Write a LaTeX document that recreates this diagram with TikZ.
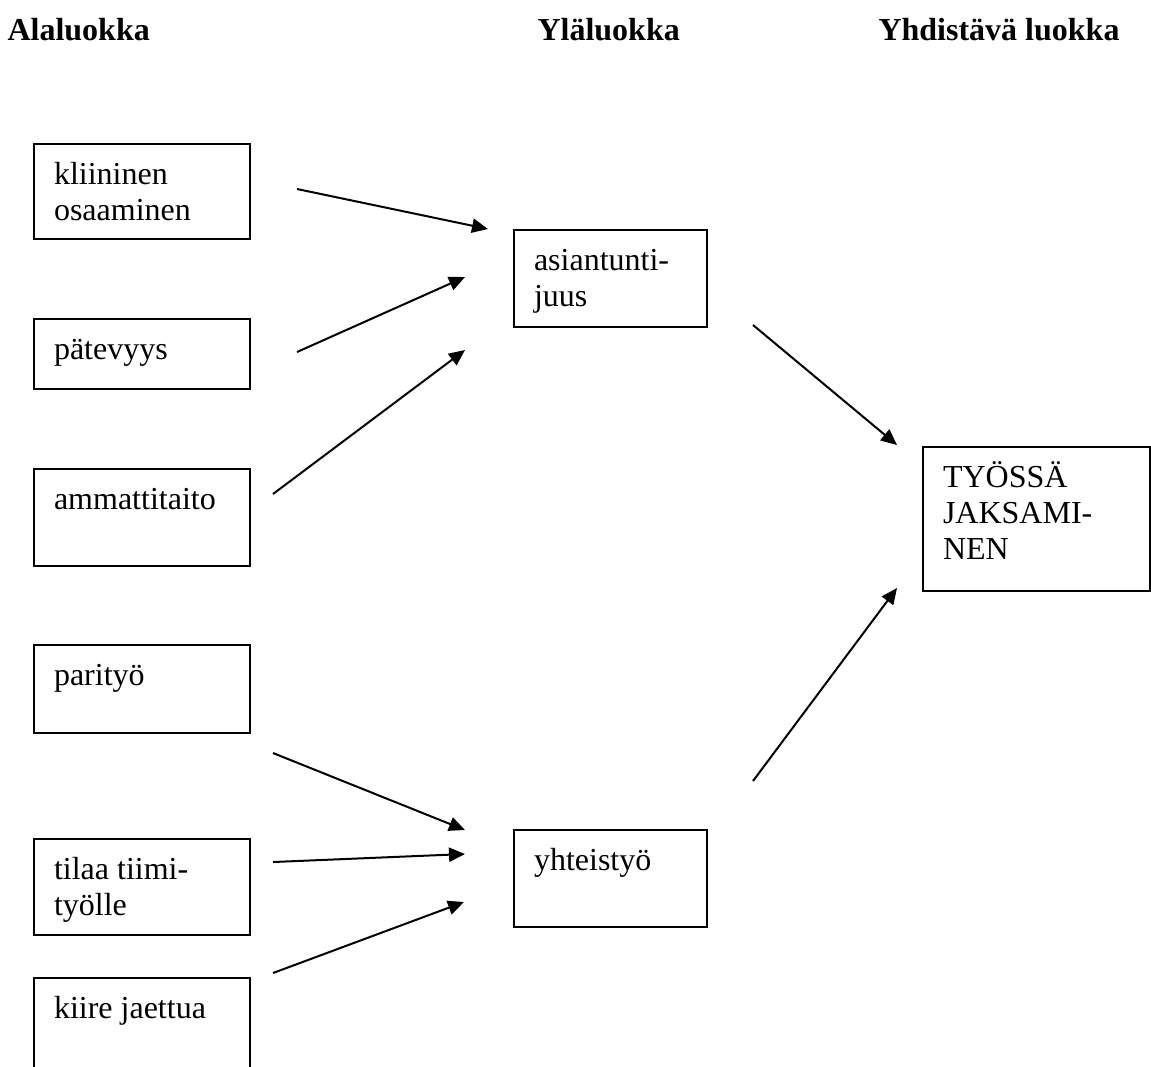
\documentclass[tikz,border=0pt]{standalone}
\usepackage{fontspec}
\setmainfont{Liberation Serif}
\usetikzlibrary{arrows.meta}

\newcommand{\laatikko}[3]{\parbox[t][#2][t]{#1}{\rule{0pt}{15pt}#3}}

\begin{document}
\begin{tikzpicture}[x=0.375pt, y=-0.375pt]
        \tikzset{luokka/.style={draw, line width=0.75pt, anchor=north west,
                inner xsep=7.5pt, inner ysep=0pt, align=left,
                font=\fontsize{12pt}{13.5pt}\selectfont}}
        \tikzset{otsikko/.style={anchor=base west, inner sep=0pt,
                font=\fontsize{12pt}{13.5pt}\selectfont\bfseries}}
        \tikzset{nuoli/.style={line width=0.75pt, -{Triangle[length=6pt, width=5.3pt]}}}
        \clip (0,0) rectangle (1151,1066);
        \node[otsikko] (ala) at (7,40) {Alaluokka};
        \node[otsikko] (yla) at (537,40) {Yläluokka};
        \node[otsikko] (yhd) at (878,40) {Yhdistävä luokka};
        \node[luokka] (klin) at (33,143) {\laatikko{66pt}{35.6pt}{kliininen\\osaaminen}};
        \node[luokka] (pate) at (33,318) {\laatikko{66pt}{26.25pt}{pätevyys}};
        \node[luokka] (amma) at (33,468) {\laatikko{66pt}{36.4pt}{ammattitaito}};
        \node[luokka] (pari) at (33,644) {\laatikko{66pt}{33pt}{parityö}};
        \node[luokka] (tiimi) at (33,838) {\laatikko{66pt}{36pt}{tilaa tiimi-\\työlle}};
        \node[luokka] (kiire) at (33,977) {\laatikko{66pt}{45pt}{kiire jaettua}};
        \node[luokka] (asia) at (513,229) {\laatikko{57.4pt}{36.4pt}{asiantunti-\\juus}};
        \node[luokka] (yhte) at (513,829) {\laatikko{57.4pt}{36.4pt}{yhteistyö}};
        \node[luokka] (tyo) at (922,446) {\laatikko{70.1pt}{54pt}{TYÖSSÄ\\JAKSAMI-\\NEN}};
        % vapaat nuolten päät
        \coordinate (klin-o) at (297,189);
        \coordinate (pate-o) at (297,352);
        \coordinate (amma-o) at (273,494);
        \coordinate (pari-o) at (273,753);
        \coordinate (tiimi-o) at (273,862);
        \coordinate (kiire-o) at (273,973);
        \coordinate (asia-i1) at (488,229);
        \coordinate (asia-i2) at (465,277);
        \coordinate (asia-i3) at (465,350);
        \coordinate (yhte-i1) at (465,830);
        \coordinate (yhte-i2) at (465,854);
        \coordinate (yhte-i3) at (464,902);
        \coordinate (asia-o) at (753,325);
        \coordinate (yhte-o) at (753,781);
        \coordinate (tyo-i1) at (897,445);
        \coordinate (tyo-i2) at (897,588);
        \draw[nuoli] (klin-o) -- (asia-i1);
        \draw[nuoli] (pate-o) -- (asia-i2);
        \draw[nuoli] (amma-o) -- (asia-i3);
        \draw[nuoli] (pari-o) -- (yhte-i1);
        \draw[nuoli] (tiimi-o) -- (yhte-i2);
        \draw[nuoli] (kiire-o) -- (yhte-i3);
        \draw[nuoli] (asia-o) -- (tyo-i1);
        \draw[nuoli] (yhte-o) -- (tyo-i2);
    \end{tikzpicture}
\end{document}
